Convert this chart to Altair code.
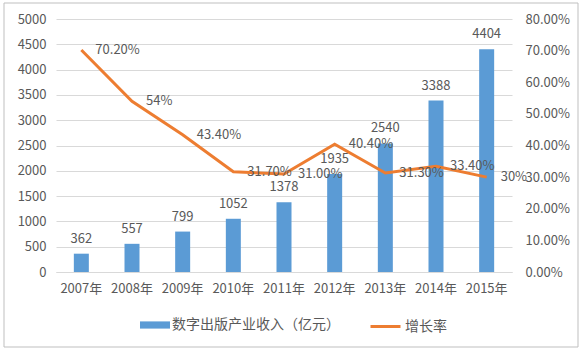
import altair as alt
import pandas as pd

years = ["2007年", "2008年", "2009年", "2010年", "2011年", "2012年", "2013年", "2014年", "2015年"]
revenue = [362, 557, 799, 1052, 1378, 1935, 2540, 3388, 4404]
growth = [0.702, 0.54, 0.434, 0.317, 0.310, 0.404, 0.313, 0.334, 0.30]
growth_labels = ["70.20%", "54%", "43.40%", "31.70%", "31.00%", "40.40%", "31.30%", "33.40%", "30%"]
series_bar = "数字出版产业收入（亿元）"
series_line = "增长率"

df = pd.DataFrame({
    "year": years,
    "revenue": revenue,
    "growth": growth,
    "glabel": growth_labels,
    "sb": [series_bar] * len(years),
    "sl": [series_line] * len(years),
})

FONT = "Noto Sans CJK SC"
GRAY = "#595959"
BLUE = "#5B9BD5"
ORANGE = "#ED7D31"

xscale = alt.Scale(paddingInner=0.7, paddingOuter=0.35)
xenc = alt.X("year:N", sort=years, title=None, scale=xscale,
             axis=alt.Axis(labelAngle=0, ticks=False, domainColor="#D9D9D9",
                           labelPadding=10, labelFontSize=13, labelColor=GRAY,
                           labelFont=FONT, labelOverlap=False))

base = alt.Chart(df)

lscale = alt.Scale(domain=[0, 5000])
yleft = alt.Y("revenue:Q", title=None, scale=lscale,
              axis=alt.Axis(values=list(range(0, 5001, 500)), ticks=False, domain=False,
                            grid=True, gridColor="#D9D9D9", labelPadding=10, format="d",
                            labelOverlap=False,
                            labelFontSize=13, labelColor=GRAY, labelFont=FONT))

frame = base.mark_rect(fill=None, stroke="#BFBFBF", strokeWidth=1).encode(
    x=alt.value(-52), x2=alt.value(522), y=alt.value(-16), y2=alt.value(328)
).transform_filter(alt.datum.year == "2007年")

bars = base.mark_bar(size=15).encode(
    x=xenc,
    y=yleft,
    fill=alt.Fill("sb:N", title=None,
                  scale=alt.Scale(domain=[series_bar], range=[BLUE]),
                  legend=alt.Legend(orient="none", legendX=84, legendY=291,
                                    symbolType="M-1,-0.24H1V0.24H-1Z", symbolSize=900,
                                    symbolStrokeWidth=0, labelOffset=2, padding=0,
                                    labelLimit=400,
                                    labelFontSize=14, labelColor=GRAY, labelFont=FONT)),
)

bar_text = base.mark_text(baseline="middle", dy=-15, fontSize=13, color=GRAY, font=FONT).encode(
    x=xenc,
    y=yleft,
    text=alt.Text("revenue:Q"),
)

rscale = alt.Scale(domain=[0, 0.8])
yright = alt.Y("growth:Q", title=None, scale=rscale,
               axis=alt.Axis(orient="right", values=[i / 10 for i in range(9)], format=".2%",
                             ticks=False, domain=False, grid=False, labelPadding=13,
                             labelOverlap=False,
                             labelFontSize=13, labelColor=GRAY, labelFont=FONT))

line = base.mark_line(strokeWidth=3).encode(
    x=xenc,
    y=yright,
    stroke=alt.Stroke("sl:N", title=None,
                      scale=alt.Scale(domain=[series_line], range=[ORANGE]),
                      legend=alt.Legend(orient="none", legendX=313, legendY=291,
                                        symbolType="stroke", symbolSize=900,
                                        symbolStrokeWidth=3, labelOffset=3, padding=0,
                                        labelLimit=200,
                                        labelFontSize=14, labelColor=GRAY, labelFont=FONT)),
)

line_text = base.mark_text(align="left", baseline="middle", dx=14, fontSize=13,
                           color=GRAY, font=FONT).encode(
    x=xenc,
    y=yright,
    text="glabel:N",
)

left = alt.layer(frame, bars, bar_text)
right = alt.layer(line, line_text)

chart = alt.layer(left, right).resolve_scale(y="independent", fill="independent", stroke="independent").properties(
    width=456, height=253,
    padding={"left": 56, "top": 19, "right": 70, "bottom": 79},
    autosize=alt.AutoSizeParams(type="none"),
    background="white",
).configure_view(stroke=None)

chart.save("out.html", embed_options={"renderer": "svg", "actions": False})
